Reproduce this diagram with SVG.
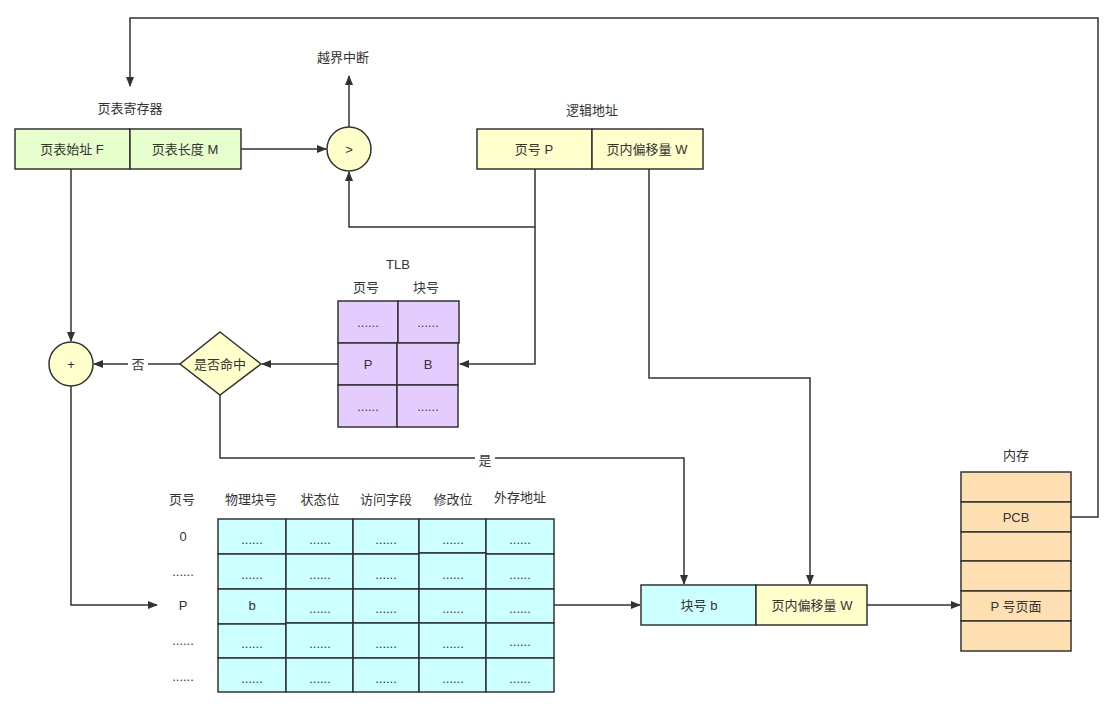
<svg xmlns="http://www.w3.org/2000/svg" width="1117" height="714" viewBox="0 0 1117 714">
<defs>
<marker id="ah" viewBox="0 0 10 10" refX="9" refY="5" markerWidth="10" markerHeight="10" markerUnits="userSpaceOnUse" orient="auto"><path d="M0,1 L10,5 L0,9 Z" fill="#333"/></marker>
<style>
text{font-family:"Liberation Sans","Noto Sans CJK SC",sans-serif;font-size:13px;fill:#333;text-anchor:middle;dominant-baseline:central}
.b{stroke:#333;stroke-width:1.5}
.g{fill:#e6ffcc}.y{fill:#ffffcc}.p{fill:#e5ccff}.c{fill:#ccffff}.o{fill:#ffe0b3}
.ln{fill:none;stroke:#333;stroke-width:1.5;marker-end:url(#ah)}
.ln0{fill:none;stroke:#333;stroke-width:1.5}
</style>
</defs>
<rect width="1117" height="714" fill="#fff"/>
<g id="connectors">
<path class="ln" d="M241,149 L326,149"/>
<path class="ln" d="M349,127 L349,76"/>
<path class="ln" d="M535,169 L535,227 L349,227 L349,172"/>
<path class="ln" d="M535,227 L535,364 L460,364"/>
<path class="ln" d="M649,169 L649,378 L810,378 L810,584"/>
<path class="ln" d="M1071,517 L1098,517 L1098,18 L130,18 L130,86"/>
<path class="ln" d="M338,364 L262,364"/>
<path class="ln" d="M180,364 L94,364"/>
<path class="ln" d="M71,169 L71,341"/>
<path class="ln" d="M71,386 L71,605 L157,605"/>
<path class="ln" d="M220,395 L220,458 L684,458 L684,584"/>
<path class="ln" d="M554,605 L640,605"/>
<path class="ln" d="M867,605 L960,605"/>
<rect x="128" y="355" width="20" height="18" fill="#fff"/>
<text x="138" y="364">否</text>
<rect x="475" y="451" width="20" height="18" fill="#fff"/>
<text x="485" y="460">是</text>
</g>
<g id="register">
<text x="130" y="108">页表寄存器</text>
<rect class="b g" x="15" y="129" width="115" height="40"/>
<rect class="b g" x="130" y="129" width="111" height="40"/>
<text x="72" y="149">页表始址 F</text>
<text x="185" y="149">页表长度 M</text>
</g>
<g id="compare">
<circle class="b y" cx="349" cy="149" r="22"/>
<text x="349" y="149">&gt;</text>
</g>
<g id="interrupt"><text x="343" y="57">越界中断</text></g>
<g id="logic">
<text x="592" y="110">逻辑地址</text>
<rect class="b y" x="477" y="129" width="115" height="40"/>
<rect class="b y" x="592" y="129" width="111" height="40"/>
<text x="534" y="149">页号 P</text>
<text x="647" y="149">页内偏移量 W</text>
</g>
<g id="tlb">
<text x="398" y="264">TLB</text>
<text x="366" y="287">页号</text>
<text x="426" y="287">块号</text>
<rect class="b p" x="338" y="301" width="60" height="42"/>
<rect class="b p" x="398" y="301" width="61" height="42"/>
<rect class="b p" x="338" y="343" width="59" height="42"/>
<rect class="b p" x="397" y="343" width="61" height="42"/>
<rect class="b p" x="338" y="385" width="59" height="42"/>
<rect class="b p" x="397" y="385" width="61" height="42"/>
<text x="368" y="322">......</text><text x="428" y="322">......</text>
<text x="368" y="364">P</text><text x="428" y="364">B</text>
<text x="368" y="406">......</text><text x="428" y="406">......</text>
</g>
<g id="hit">
<path class="b y" d="M220,332 L261,364 L220,395 L180,364 Z"/>
<text x="220" y="364">是否命中</text>
</g>
<g id="add">
<circle class="b y" cx="71" cy="364" r="22"/>
<text x="71" y="364">+</text>
</g>
<g id="pagetable">
<text x="182" y="499">页号</text>
<text x="251" y="499">物理块号</text>
<text x="320" y="499">状态位</text>
<text x="386" y="499">访问字段</text>
<text x="453" y="499">修改位</text>
<text x="520" y="497">外存地址</text>
<text x="183" y="536">0</text>
<text x="183" y="571">......</text>
<text x="183" y="605">P</text>
<text x="183" y="640">......</text>
<text x="183" y="676">......</text>
<g class="b c">
<rect x="218" y="519" width="68" height="35"/><rect x="286" y="519" width="67" height="35"/><rect x="353" y="519" width="66" height="35"/><rect x="419" y="519" width="67" height="34"/><rect x="486" y="519" width="68" height="35"/>
<rect x="218" y="554" width="68" height="35"/><rect x="286" y="554" width="67" height="35"/><rect x="353" y="554" width="66" height="35"/><rect x="419" y="553" width="67" height="36"/><rect x="486" y="554" width="68" height="35"/>
<rect x="218" y="589" width="68" height="35"/><rect x="286" y="589" width="67" height="34"/><rect x="353" y="589" width="66" height="34"/><rect x="419" y="589" width="67" height="34"/><rect x="486" y="589" width="68" height="34"/>
<rect x="218" y="624" width="68" height="34"/><rect x="286" y="623" width="67" height="35"/><rect x="353" y="623" width="66" height="35"/><rect x="419" y="623" width="67" height="35"/><rect x="486" y="623" width="68" height="35"/>
<rect x="218" y="658" width="68" height="34"/><rect x="286" y="658" width="67" height="34"/><rect x="353" y="658" width="66" height="34"/><rect x="419" y="658" width="67" height="34"/><rect x="486" y="658" width="68" height="34"/>
</g>
<text x="252" y="539">......</text><text x="320" y="539">......</text><text x="386" y="539">......</text><text x="453" y="539">......</text><text x="520" y="539">......</text>
<text x="252" y="574">......</text><text x="320" y="574">......</text><text x="386" y="574">......</text><text x="453" y="574">......</text><text x="520" y="574">......</text>
<text x="252" y="605">b</text><text x="320" y="608">......</text><text x="386" y="608">......</text><text x="453" y="608">......</text><text x="520" y="608">......</text>
<text x="252" y="643">......</text><text x="320" y="643">......</text><text x="386" y="643">......</text><text x="453" y="643">......</text><text x="520" y="641">......</text>
<text x="252" y="678">......</text><text x="320" y="678">......</text><text x="386" y="678">......</text><text x="453" y="678">......</text><text x="520" y="678">......</text>
</g>
<g id="physaddr">
<rect class="b c" x="641" y="585" width="115" height="40"/>
<rect class="b y" x="756" y="585" width="111" height="40"/>
<text x="699" y="605">块号 b</text>
<text x="812" y="605">页内偏移量 W</text>
</g>
<g id="memory">
<text x="1016" y="455">内存</text>
<g class="b o">
<rect x="961" y="472" width="110" height="30"/>
<rect x="961" y="502" width="110" height="30"/>
<rect x="961" y="532" width="110" height="29"/>
<rect x="961" y="561" width="110" height="30"/>
<rect x="961" y="591" width="110" height="30"/>
<rect x="961" y="621" width="110" height="30"/>
</g>
<text x="1016" y="517">PCB</text>
<text x="1016" y="606">P 号页面</text>
</g>
</svg>
